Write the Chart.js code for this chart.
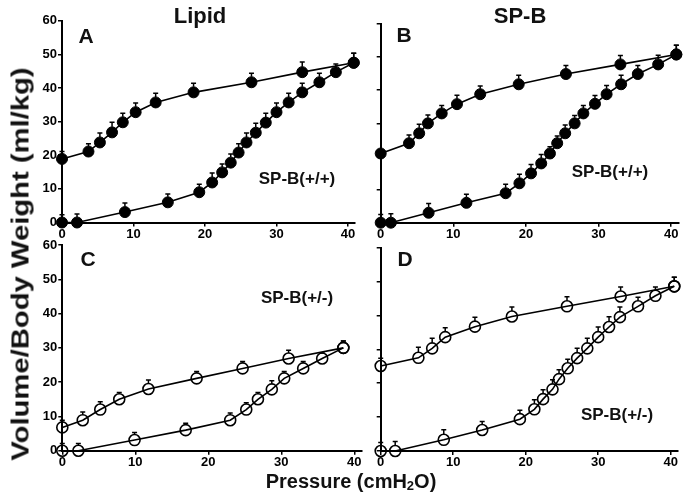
<!DOCTYPE html>
<html>
<head>
<meta charset="utf-8">
<title>Pressure-volume curves</title>
<script src="https://cdn.jsdelivr.net/npm/chart.js@4.4.1/dist/chart.umd.min.js"></script>
<style>
  html, body { margin: 0; padding: 0; background: #fff; }
  #wrap {
    position: relative; width: 685px; height: 499px; overflow: hidden;
    font-family: 'Liberation Sans', Arial, Helvetica, sans-serif; font-weight: bold; color: #111;
  }
  #wrap canvas { position: absolute; left: 0; top: 0; }
  .lbl { position: absolute; transform: translate(-50%, -50%); white-space: nowrap; line-height: 1; }
  sub { font-size: 65%; vertical-align: -2px; }
</style>
</head>
<body>
<div id="wrap">
  <canvas id="cA" width="685" height="499"></canvas>
  <canvas id="cB" width="685" height="499"></canvas>
  <canvas id="cC" width="685" height="499"></canvas>
  <canvas id="cD" width="685" height="499"></canvas>

  <div class="lbl" style="left:200px;top:16px;font-size:22px">Lipid</div>
  <div class="lbl" style="left:520px;top:16px;font-size:22px">SP-B</div>
  <div class="lbl" style="left:86px;top:35px;font-size:21px">A</div>
  <div class="lbl" style="left:404px;top:34px;font-size:21px">B</div>
  <div class="lbl" style="left:88px;top:258px;font-size:21px">C</div>
  <div class="lbl" style="left:405px;top:258px;font-size:21px">D</div>
  <div class="lbl" style="left:297px;top:178px;font-size:17px">SP-B(+/+)</div>
  <div class="lbl" style="left:610px;top:171px;font-size:17px">SP-B(+/+)</div>
  <div class="lbl" style="left:297px;top:297px;font-size:17px">SP-B(+/-)</div>
  <div class="lbl" style="left:617px;top:414px;font-size:17px">SP-B(+/-)</div>
  <div class="lbl" style="left:351px;top:481px;font-size:20px">Pressure (cmH<sub>2</sub>O)</div>
  <div class="lbl" style="left:21px;top:264px;font-size:23px;transform:translate(-50%,-50%) rotate(-90deg) scaleX(1.27)">Volume/Body Weight (ml/kg)</div>
</div>

<script>
// axis ticks
const xTicks = [0, 10, 20, 30, 40];
const yTicks = [0, 10, 20, 30, 40, 50, 60];
const xMax = 41;

// A: lipid, SP-B(+/+)  (deflation = upper limb, inflation = lower limb)
const aDefP = [0, 3.7, 5.3, 7.0, 8.5, 10.3, 13.1, 18.4, 26.5, 33.6, 40.8];
const aDefV = [18.9, 21.1, 23.8, 26.8, 29.8, 32.8, 35.7, 38.7, 41.7, 44.7, 47.5];
const aDefE = [2.2, 2.3, 2.8, 3.0, 2.7, 2.7, 2.7, 2.7, 2.7, 3.0, 2.8];
const aInfP = [0, 2.1, 8.8, 14.8, 19.2, 21.0, 22.4, 23.6, 24.7, 25.8, 27.1, 28.5, 30.0, 31.7, 33.6, 36.0, 38.3, 40.8];
const aInfV = [0, 0, 3.1, 6.0, 9.0, 11.9, 14.9, 17.8, 20.8, 23.8, 26.7, 29.7, 32.8, 35.7, 38.7, 41.7, 44.7, 47.5];
const aInfE = [2.3, 2.5, 2.7, 2.5, 2.4, 2.8, 2.5, 2.6, 2.6, 2.8, 2.8, 2.8, 2.7, 2.7, 2.7, 2.7, 2.4, 2.8];

// B: SP-B, SP-B(+/+)
const bDefP = [0, 3.9, 5.3, 6.5, 8.4, 10.5, 13.7, 19.0, 25.5, 33.0, 40.7];
const bDefV = [20.9, 24.0, 27.0, 30.0, 33.0, 35.8, 38.8, 41.8, 44.9, 47.8, 50.8];
const bDefE = [0, 2.5, 2.7, 2.5, 2.4, 2.7, 2.5, 2.7, 2.6, 2.7, 2.8];
const bInfP = [0, 1.4, 6.6, 11.8, 17.2, 19.1, 20.7, 22.1, 23.3, 24.3, 25.4, 26.7, 27.9, 29.5, 31.1, 33.1, 35.4, 38.2, 40.7];
const bInfV = [0, 0, 3.0, 6.0, 8.9, 11.9, 14.9, 17.9, 20.9, 24.0, 27.0, 30.0, 33.0, 35.9, 38.8, 41.8, 44.9, 47.8, 50.8];
const bInfE = [2.5, 2.7, 2.8, 2.6, 2.7, 2.7, 2.7, 2.7, 2.0, 2.2, 2.5, 2.4, 2.4, 2.5, 2.6, 2.7, 2.6, 2.8, 2.8];

// C: lipid, SP-B(+/-)
const cDefP = [0, 2.8, 5.2, 7.8, 11.8, 18.4, 24.7, 31.0, 38.5];
const cDefV = [6.8, 8.9, 12.0, 15.0, 18.0, 21.1, 24.0, 26.9, 30.0];
const cDefE = [2.1, 2.4, 2.3, 2.0, 2.6, 2.0, 2.0, 2.4, 2.0];
const cInfP = [0, 2.2, 9.9, 16.9, 23.0, 25.2, 26.8, 28.7, 30.4, 33.0, 35.6, 38.5];
const cInfV = [0, 0, 3.1, 6.0, 8.9, 12.0, 15.0, 17.9, 21.1, 24.0, 26.9, 30.0];
const cInfE = [2.1, 2.1, 2.2, 2.0, 2.1, 2.0, 2.0, 2.5, 2.0, 2.0, 1.6, 2.0];

// D: SP-B, SP-B(+/-)
const dDefP = [0, 5.2, 7.1, 8.9, 13.0, 18.1, 25.7, 33.1, 40.5];
const dDefV = [25.1, 27.5, 30.3, 33.6, 36.7, 39.7, 42.7, 45.6, 48.6];
const dDefE = [2.3, 3.1, 3.0, 2.8, 2.8, 2.8, 2.8, 2.8, 2.7];
const dInfP = [0, 2.0, 8.7, 14.0, 19.2, 21.2, 22.4, 23.7, 24.6, 25.8, 27.1, 28.5, 30.0, 31.5, 33.0, 35.5, 37.9, 40.5];
const dInfV = [0, 0, 3.3, 6.2, 9.4, 12.3, 15.3, 18.2, 21.2, 24.4, 27.4, 30.3, 33.6, 36.6, 39.5, 42.7, 45.8, 48.6];
const dInfE = [2.5, 2.8, 3.0, 2.5, 2.6, 2.8, 2.8, 2.8, 2.8, 2.7, 2.9, 3.0, 3.0, 3.0, 3.0, 2.7, 2.6, 2.7];

// upward-only error bars with a small cap, drawn under the markers
const errorBars = {
  id: 'errorBars',
  beforeDatasetsDraw(chart) {
    const { ctx } = chart;
    const y = chart.scales.y;
    ctx.save();
    ctx.strokeStyle = '#000';
    ctx.lineWidth = 1.5;
    chart.data.datasets.forEach((ds, i) => {
      chart.getDatasetMeta(i).data.forEach((pt, j) => {
        const e = ds.errors[j];
        if (!e) return;
        const top = y.getPixelForValue(ds.data[j].y + e);
        ctx.beginPath();
        ctx.moveTo(pt.x, pt.y - ds.pointRadius);
        ctx.lineTo(pt.x, top);
        ctx.moveTo(pt.x - 2.5, top);
        ctx.lineTo(pt.x + 2.5, top);
        ctx.stroke();
      });
    });
    ctx.restore();
  }
};

function series(p, v, e) {
  return { p, v, e };
}

// g = pixel position of x=0, x=40, y=0, y=60 for the panel
function makePanel(id, g, limbs, filled, yLabels) {
  const right = g.x0 + (g.x40 - g.x0) * xMax / 40;
  const yW = 30, xH = 20;
  const tickFont = { size: 13, weight: 'bold', family: "'Liberation Sans', Arial, sans-serif" };
  const axisLine = { display: true, color: '#000', width: 2 };
  const gridOpts = { drawOnChartArea: false, drawTicks: true, tickLength: 4, color: '#000', lineWidth: 1.5 };

  return new Chart(document.getElementById(id), {
    type: 'scatter',
    data: {
      datasets: limbs.map(s => ({
        data: s.p.map((p, i) => ({ x: p, y: s.v[i] })),
        errors: s.e,
        showLine: true,
        borderColor: '#000',
        borderWidth: 1.6,
        pointRadius: 5.5,
        pointBackgroundColor: filled ? '#000' : 'rgba(0,0,0,0)',
        pointBorderColor: '#000',
        pointBorderWidth: filled ? 1 : 1.6,
        clip: false
      }))
    },
    options: {
      responsive: false,
      animation: false,
      events: [],
      layout: {
        padding: { left: g.x0 - yW, right: 685 - right, top: g.y60, bottom: 499 - g.y0 - xH }
      },
      plugins: { legend: { display: false }, tooltip: { enabled: false } },
      scales: {
        x: {
          type: 'linear', min: 0, max: xMax,
          afterBuildTicks: s => { s.ticks = xTicks.map(v => ({ value: v })); },
          afterFit: s => { s.height = xH; },
          ticks: { font: tickFont, color: '#000', padding: 0, maxRotation: 0 },
          grid: gridOpts,
          border: axisLine
        },
        y: {
          type: 'linear', min: 0, max: 60,
          afterBuildTicks: s => { s.ticks = yTicks.map(v => ({ value: v })); },
          afterFit: s => { s.width = yW; },
          ticks: { font: tickFont, color: '#000', padding: 1, callback: v => yLabels ? v : '' },
          grid: gridOpts,
          border: axisLine
        }
      }
    },
    plugins: [errorBars]
  });
}

makePanel('cA', { x0: 62, x40: 348, y0: 222.5, y60: 20.7 },
  [series(aDefP, aDefV, aDefE), series(aInfP, aInfV, aInfE)], true, true);
makePanel('cB', { x0: 380.7, x40: 671.7, y0: 222.7, y60: 24 },
  [series(bDefP, bDefV, bDefE), series(bInfP, bInfV, bInfE)], true, false);
makePanel('cC', { x0: 62.3, x40: 354.3, y0: 450.7, y60: 245 },
  [series(cDefP, cDefV, cDefE), series(cInfP, cInfV, cInfE)], false, true);
makePanel('cD', { x0: 380.7, x40: 674, y0: 451, y60: 247.7 },
  [series(dDefP, dDefV, dDefE), series(dInfP, dInfV, dInfE)], false, false);
</script>
</body>
</html>
